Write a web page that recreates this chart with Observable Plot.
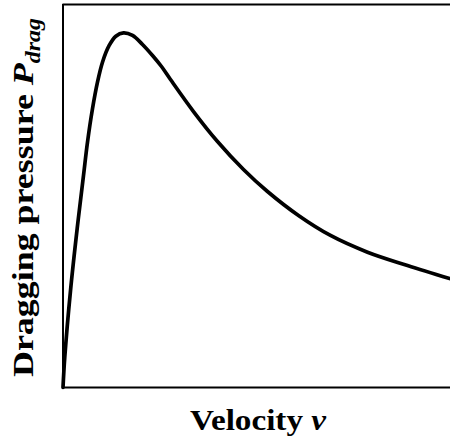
<!DOCTYPE html>
<html>
<head>
<meta charset="utf-8">
<script src="https://cdn.jsdelivr.net/npm/d3@7"></script>
<script src="https://cdn.jsdelivr.net/npm/@observablehq/plot@0.6"></script>
<style>
  html, body { margin: 0; padding: 0; background: #fff; }
  svg { display: block; }
</style>
</head>
<body>
<div id="chart"></div>
<script>
// Velocity (arbitrary units, 0–100 across the plot)
const velocity = [0, 0.46, 1.94, 3.66, 5.29, 6.32, 7.61, 8.90, 10.19, 11.92, 13.63, 15.61, 17.94, 20.52, 23.10, 25.42, 27.74, 33.68, 39.87, 46.58, 52.77, 60.77, 69.03, 78.58, 88.90, 100];
// Dragging pressure (arbitrary units)
const pressure = [0, 7.91, 25.33, 41.51, 55.35, 64.05, 72.77, 79.71, 84.93, 89.30, 91.72, 92.61, 91.91, 89.56, 86.68, 83.81, 80.42, 72.06, 64.23, 56.92, 51.17, 44.91, 39.69, 35.33, 31.85, 28.38];

const xLabel = "Velocity";
const xSymbol = "v";
const yLabel = "Dragging pressure";
const ySymbol = "P";
const ySub = "drag";

const data = velocity.map((v, i) => ({v, p: pressure[i]}));

const W = 450, H = 443;
const mL = 62.5, mR = 0, mT = 4, mB = 56;

const chart = Plot.plot({
  width: W,
  height: H,
  marginLeft: mL,
  marginRight: mR,
  marginTop: mT,
  marginBottom: mB,
  x: {domain: [0, 100], axis: null},
  y: {domain: [0, 100], axis: null},
  style: {background: "#fff"},
  marks: [
    Plot.ruleX([0], {stroke: "#000", strokeWidth: 2}),
    Plot.ruleY([0], {stroke: "#000", strokeWidth: 2}),
    Plot.ruleY([100], {stroke: "#000", strokeWidth: 2}),
    Plot.line(data, {x: "v", y: "p", stroke: "#000", strokeWidth: 3.7, curve: "catmull-rom"})
  ]
});

const svg = d3.select(chart);
const font = "'Liberation Serif', 'Times New Roman', serif";

// x-axis label
const xt = svg.append("text")
  .attr("x", 258)
  .attr("y", 430)
  .attr("text-anchor", "middle")
  .attr("font-family", font)
  .attr("font-weight", "bold")
  .attr("font-size", 29)
  .attr("textLength", 136)
  .attr("lengthAdjust", "spacingAndGlyphs")
  .attr("fill", "#000");
xt.append("tspan").text(xLabel + " ");
xt.append("tspan").attr("font-style", "italic").text(xSymbol);

// y-axis label
const yt = svg.append("text")
  .attr("transform", `translate(33, 197.5) rotate(-90)`)
  .attr("text-anchor", "middle")
  .attr("font-family", font)
  .attr("font-weight", "bold")
  .attr("font-size", 30)
  .attr("textLength", 359)
  .attr("lengthAdjust", "spacingAndGlyphs")
  .attr("fill", "#000");
yt.append("tspan").text(yLabel + " ");
yt.append("tspan").attr("font-style", "italic").text(ySymbol);
yt.append("tspan").attr("font-style", "italic").attr("font-size", 20).attr("dy", 7).text(ySub);

document.getElementById("chart").appendChild(chart);
</script>
</body>
</html>
